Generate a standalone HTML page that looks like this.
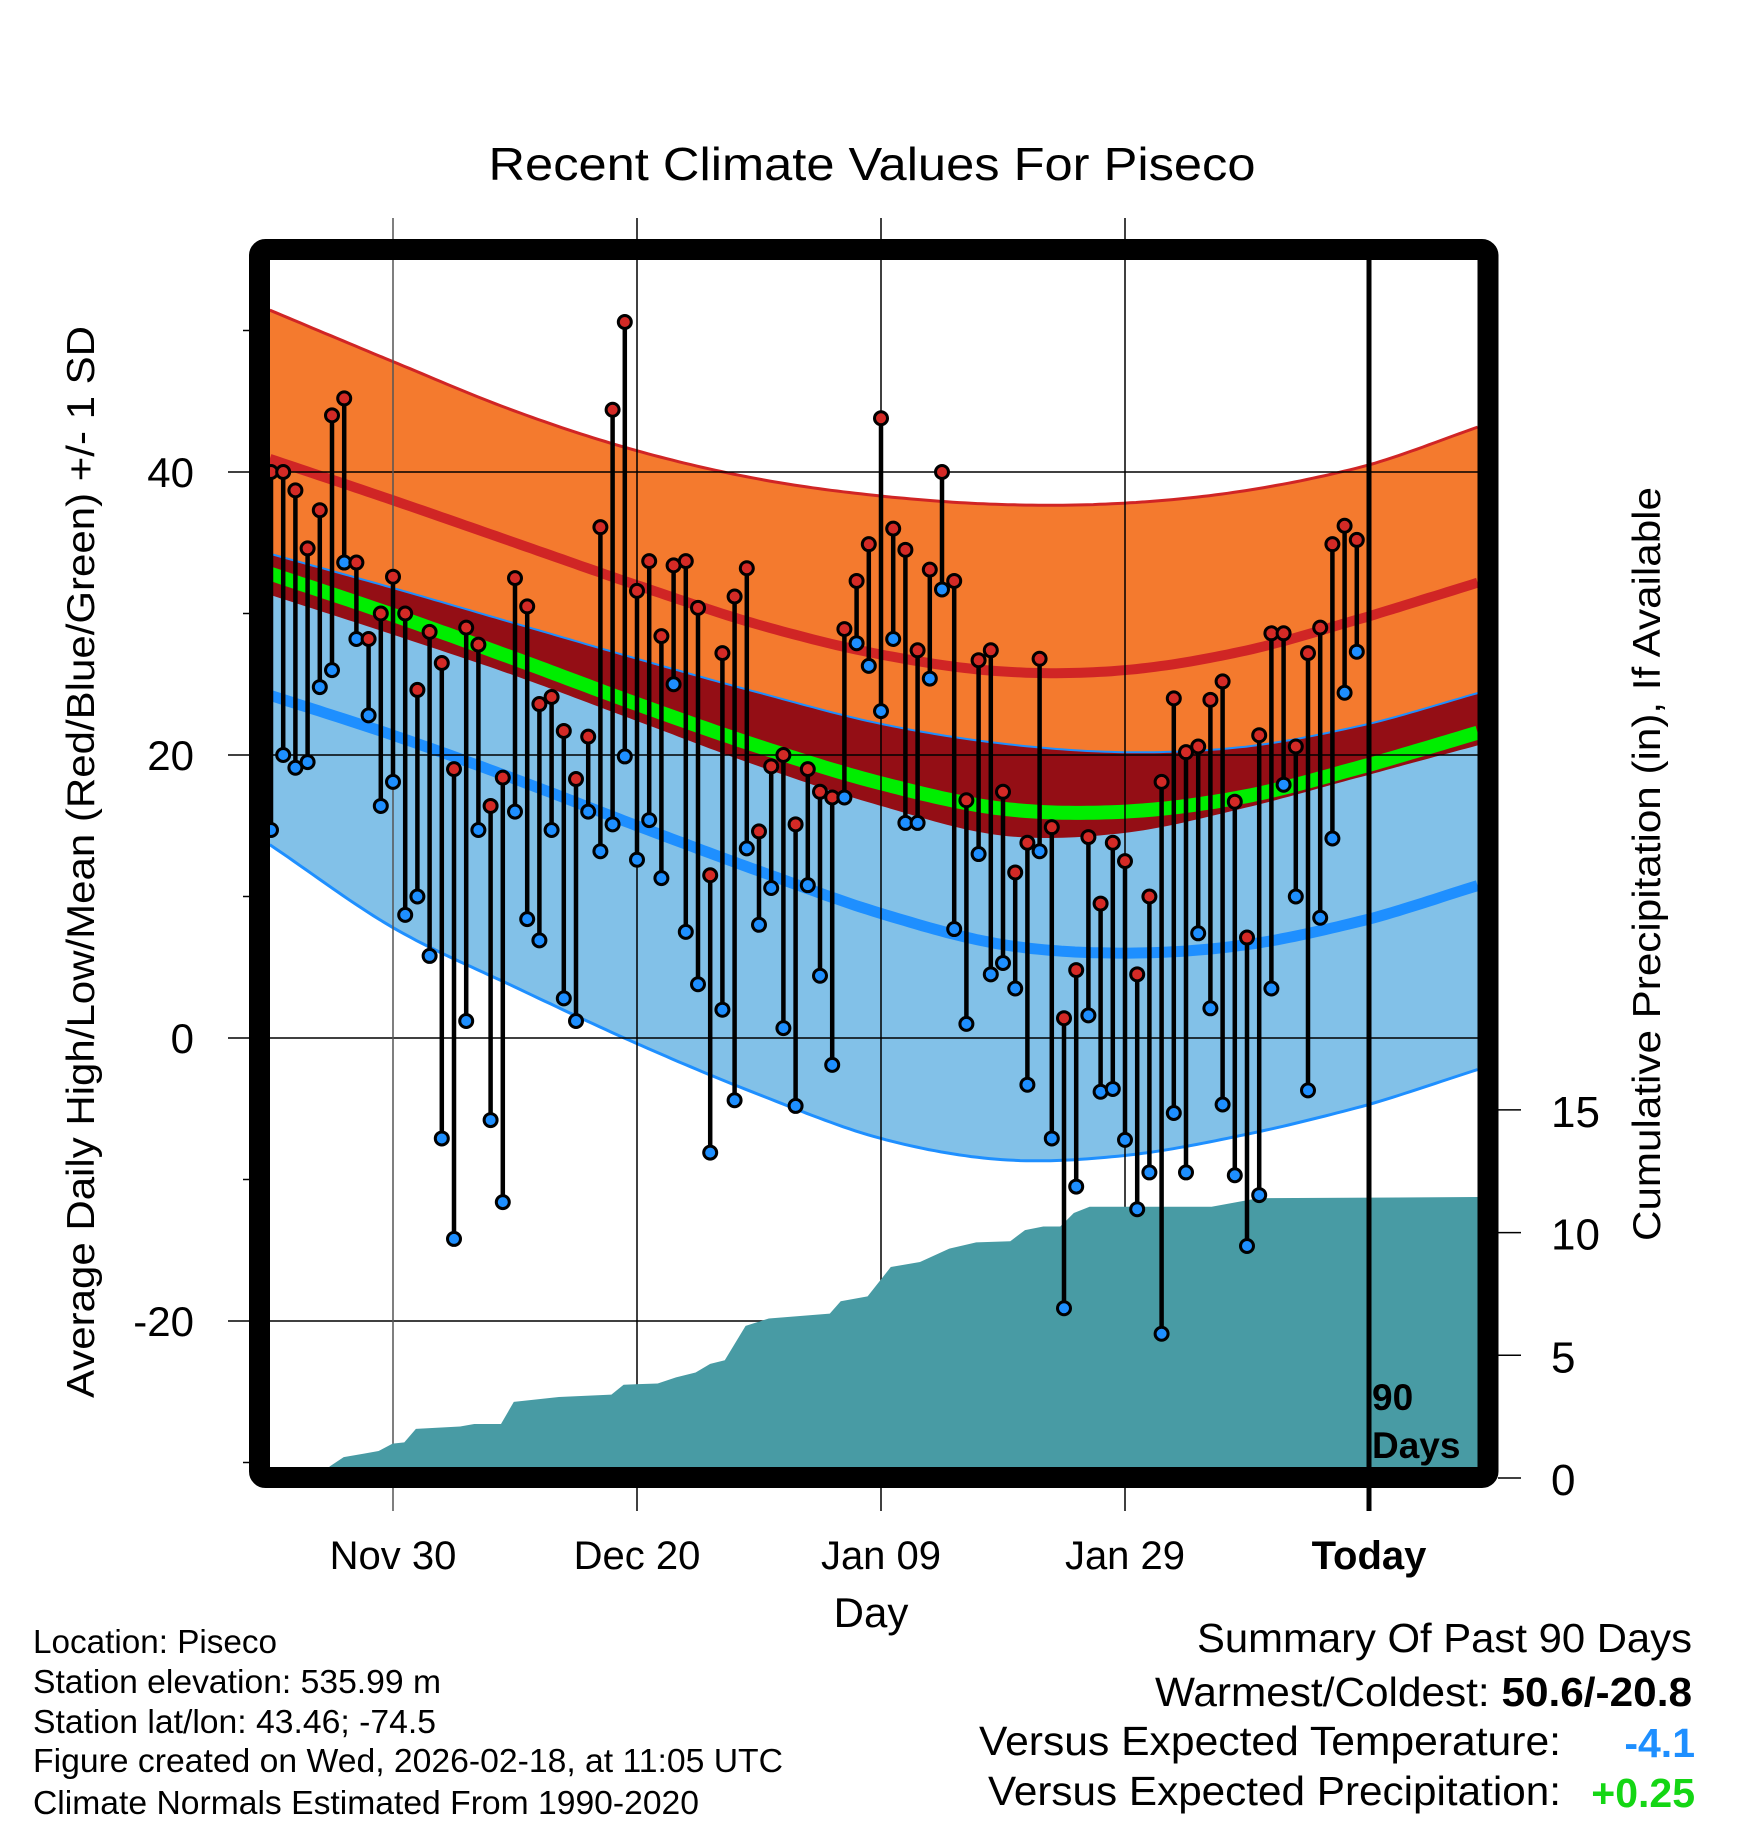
<!DOCTYPE html>
<html><head><meta charset="utf-8"><style>
html,body{margin:0;padding:0;background:#fff}
svg{display:block;font-family:"Liberation Sans",Arial,sans-serif}
</style></head><body>
<svg id="chart" width="1748" height="1828" viewBox="0 0 1748 1828" xmlns="http://www.w3.org/2000/svg">
<defs><clipPath id="plotclip"><rect x="270" y="260" width="1208" height="1207"/></clipPath></defs>
<text x="872" y="180" font-size="46" text-anchor="middle" textLength="767" lengthAdjust="spacingAndGlyphs">Recent Climate Values For Piseco</text>
<g id="bands" clip-path="url(#plotclip)"></g>
<g id="grid"></g>
<g id="precip" clip-path="url(#plotclip)"></g>
<g id="marks"></g>
<g id="axes"></g>
<rect x="259.5" y="249.5" width="1228.5" height="1228" rx="6" fill="none" stroke="#000" stroke-width="21"/>
<text x="1372" y="1410" font-size="37" font-weight="bold">90</text>
<text x="1372" y="1458" font-size="37" font-weight="bold">Days</text>
<text x="871" y="1627" font-size="42" text-anchor="middle">Day</text>
<text transform="translate(94,862) rotate(-90)" font-size="39" text-anchor="middle" textLength="1072" lengthAdjust="spacingAndGlyphs">Average Daily High/Low/Mean (Red/Blue/Green) +/- 1 SD</text>
<text transform="translate(1660,864) rotate(-90)" font-size="39" text-anchor="middle" textLength="754" lengthAdjust="spacingAndGlyphs">Cumulative Precipitation (in), If Available</text>
<g font-size="33">
<text x="33" y="1653" textLength="244" lengthAdjust="spacingAndGlyphs">Location: Piseco</text>
<text x="33" y="1693" textLength="408" lengthAdjust="spacingAndGlyphs">Station elevation: 535.99 m</text>
<text x="33" y="1733" textLength="403" lengthAdjust="spacingAndGlyphs">Station lat/lon: 43.46; -74.5</text>
<text x="33" y="1772" textLength="750" lengthAdjust="spacingAndGlyphs">Figure created on Wed, 2026-02-18, at 11:05 UTC</text>
<text x="33" y="1814" textLength="666" lengthAdjust="spacingAndGlyphs">Climate Normals Estimated From 1990-2020</text>
</g>
<g font-size="41">
<text x="1197" y="1652" textLength="495" lengthAdjust="spacingAndGlyphs">Summary Of Past 90 Days</text>
<text x="1155" y="1706" textLength="537" lengthAdjust="spacingAndGlyphs">Warmest/Coldest: <tspan font-weight="bold">50.6/-20.8</tspan></text>
<text x="979" y="1755" textLength="582" lengthAdjust="spacingAndGlyphs">Versus Expected Temperature:</text>
<text x="1695" y="1757" text-anchor="end" font-weight="bold" fill="#1e8fff">-4.1</text>
<text x="988" y="1805" textLength="573" lengthAdjust="spacingAndGlyphs">Versus Expected Precipitation:</text>
<text x="1695" y="1807" text-anchor="end" font-weight="bold" fill="#14d614">+0.25</text>
</g>
</svg>
<script>
// ---- data ----
const highs = [40,40,38.7,34.6,37.3,44,45.2,33.6,28.2,30,32.6,30,24.6,28.7,26.5,19,29,27.8,16.4,18.4,32.5,30.5,23.6,24.1,21.7,18.3,21.3,36.1,44.4,50.6,31.6,33.7,28.4,33.4,33.7,30.4,11.5,27.2,31.2,33.2,14.6,19.2,20,15.1,19,17.4,17,28.9,32.3,34.9,43.8,36,34.5,27.4,33.1,40,32.3,16.8,26.7,27.4,17.4,11.7,13.8,26.8,14.9,1.4,4.8,14.2,9.5,13.8,12.5,4.5,10,18.1,24,20.2,20.6,23.9,25.2,16.7,7.1,21.4,28.6,28.6,20.6,27.2,29,34.9,36.2,35.2];
const lows = [14.7,20,19.1,19.5,24.8,26,33.6,28.2,22.8,16.4,18.1,8.7,10,5.8,-7.1,-14.2,1.2,14.7,-5.8,-11.6,16,8.4,6.9,14.7,2.8,1.2,16,13.2,15.1,19.9,12.6,15.4,11.3,25,7.5,3.8,-8.1,2,-4.4,13.4,8,10.6,0.7,-4.8,10.8,4.4,-1.9,17,27.9,26.3,23.1,28.2,15.2,15.2,25.4,31.7,7.7,1,13,4.5,5.3,3.5,-3.3,13.2,-7.1,-19.1,-10.5,1.6,-3.8,-3.6,-7.2,-12.1,-9.5,-20.9,-5.3,-9.5,7.4,2.1,-4.7,-9.7,-14.7,-11.1,3.5,17.9,10,-3.7,8.5,14.1,24.4,27.3];
const firstDay = -10; // days relative to Nov 30
const normDays = [-10,0,10,20,30,40,50,60,70,80,89];
const hiTop  = [51.4,47.8,44.3,41.5,39.5,38.3,37.7,37.8,38.7,40.5,43.2];
const hiMean = [40.9,38.0,35.0,32.0,29.2,27.1,25.9,26.0,27.4,29.8,32.2];
const hiBot  = [31.3,28.5,25.6,22.4,19.2,16.4,14.3,14.5,16.3,18.6,20.7];
const avgMean= [32.8,29.9,26.8,23.6,20.6,18.0,16.2,16.0,17.1,19.3,21.6];
const loTop  = [34.2,31.8,29.3,26.8,24.4,22.2,20.8,20.2,20.6,22.2,24.4];
const loMean = [24.2,21.4,18.3,15.0,11.8,8.8,6.6,6.0,6.6,8.4,10.8];
const loBot  = [13.6,7.8,3.6,-0.4,-4.0,-7.1,-8.6,-8.3,-6.8,-4.7,-2.2];
const precipDays = [-5.6,-5.2,-4.04,-2.32,-1.18,-0.03,0.93,1.88,5.5,6.66,8.85,9.9,13.6,17.9,18.9,21.7,23.2,24.8,26.0,27.2,28.9,30.8,35.8,36.7,38.9,40.8,43.2,45.6,47.8,50.6,51.8,53.3,54.7,55.8,57.1,67.1,70.9,89];
const precipVals = [0,0.47,0.85,1.0,1.1,1.4,1.45,2.0,2.1,2.2,2.2,3.1,3.3,3.4,3.8,3.85,4.1,4.3,4.65,4.8,6.2,6.5,6.7,7.2,7.4,8.6,8.8,9.35,9.6,9.65,10.1,10.25,10.25,10.8,11.05,11.05,11.4,11.45];
const xTickDays = [0,20,40,60,80];
const xTickLabels = ["Nov 30","Dec 20","Jan 09","Jan 29","Today"];
const yTicks = [40,20,0,-20];
const yMinor = [50,30,10,-10,-30];
const pTicks = [0,5,10,15];

// ---- scales ----
const NS="http://www.w3.org/2000/svg";
function x(d){return 393+d*12.2;}
function y(t){return 472+(40-t)*14.15;}
function yp(p){return 1478-p*24.54;}
const dMin=-10.1, dMax=88.95;
function interp(arr,d){
  let i=0; while(i<normDays.length-2 && d>normDays[i+1]) i++;
  const t=(d-normDays[i])/(normDays[i+1]-normDays[i]);
  const p1=arr[i],p2=arr[i+1];
  const p0=i>0?arr[i-1]:2*p1-p2;
  const p3=i+2<arr.length?arr[i+2]:2*p2-p1;
  return 0.5*((2*p1)+(-p0+p2)*t+(2*p0-5*p1+4*p2-p3)*t*t+(-p0+3*p1-3*p2+p3)*t*t*t);
}
function mk(tag,attrs,parent){const e=document.createElementNS(NS,tag);for(const k in attrs)e.setAttribute(k,attrs[k]);parent.appendChild(e);return e;}
function linePts(arr){const p=[];for(let d=dMin;d<=dMax+0.01;d+=0.5)p.push(x(d).toFixed(1)+","+y(interp(arr,d)).toFixed(1));return p;}
function bandPath(a,b){const t=linePts(a),bt=linePts(b).reverse();return "M"+t.join("L")+"L"+bt.join("L")+"Z";}

const bands=document.getElementById('bands');
let e;
e=mk('path',{d:bandPath(hiTop,hiBot),fill:'#f47a2e'},bands);


e=mk('path',{d:bandPath(loTop,loBot),fill:'#82c1e8'},bands);


e=mk('path',{d:bandPath(loTop,hiBot),fill:'#940e15'},bands);


e=mk('polyline',{points:linePts(hiTop).join(' '),fill:'none',stroke:'#d02525','stroke-width':3},bands);


e=mk('polyline',{points:linePts(hiMean).join(' '),fill:'none',stroke:'#d02525','stroke-width':10},bands);


e=mk('polyline',{points:linePts(loTop).join(' '),fill:'none',stroke:'#1e8fff','stroke-width':2},bands);


e=mk('polyline',{points:linePts(loBot).join(' '),fill:'none',stroke:'#1e8fff','stroke-width':3},bands);


e=mk('polyline',{points:linePts(loMean).join(' '),fill:'none',stroke:'#1e8fff','stroke-width':11},bands);


e=mk('polyline',{points:linePts(avgMean).join(' '),fill:'none',stroke:'#00ee00','stroke-width':14},bands);



// grid
const grid=document.getElementById('grid');
yTicks.forEach(t=>{
  e=mk('line',{x1:228,x2:1478,y1:y(t),y2:y(t),stroke:'#000','stroke-width':1.5},grid);
  
  
});
yMinor.forEach(t=>{
  e=mk('line',{x1:243,x2:252,y1:y(t),y2:y(t),stroke:'#000','stroke-width':1.5},grid);
  
  
});
xTickDays.forEach((d,i)=>{
  if(i===xTickDays.length-1) return;
  e=mk('line',{x1:x(d),x2:x(d),y1:218,y2:1511,stroke:i===0?'#555':'#000','stroke-width':1.5},grid);
  
  
});

// precip
const pg=document.getElementById('precip');
let pd="M"+x(precipDays[0])+","+1470;
precipDays.forEach((d,i)=>{pd+="L"+x(d).toFixed(1)+","+yp(precipVals[i]).toFixed(1);});
pd+="L"+x(dMax)+","+yp(precipVals[precipVals.length-1])+"L"+x(dMax)+",1470Z";
e=mk('path',{d:pd,fill:'#489ba4'},pg);



// marks
const mg=document.getElementById('marks');
highs.forEach((h,i)=>{
  const d=firstDay+i, l=lows[i], xx=x(d);
  e=mk('line',{x1:xx,x2:xx,y1:y(h),y2:y(l),stroke:'#000','stroke-width':4.5},mg);
  
  
});
highs.forEach((h,i)=>{
  const d=firstDay+i, l=lows[i], xx=x(d);
  e=mk('circle',{cx:xx,cy:y(h),r:6.5,fill:'#d42a26',stroke:'#000','stroke-width':3},mg);
  
  
  e=mk('circle',{cx:xx,cy:y(l),r:6.5,fill:'#1e8fff',stroke:'#000','stroke-width':3},mg);
  
  
});

// axes
const ax=document.getElementById('axes');
e=mk('line',{x1:x(80),x2:x(80),y1:260,y2:1511,stroke:'#000','stroke-width':5},ax);


xTickDays.forEach((d,i)=>{
  e=mk('text',{x:x(d),y:1569,'font-size':40,'text-anchor':'middle','font-weight':i===4?'bold':'normal'},ax);
  e.textContent=xTickLabels[i];
  
  
});
yTicks.forEach(t=>{
  e=mk('text',{x:194,y:y(t)+15,'font-size':42,'text-anchor':'end'},ax);
  e.textContent=String(t);
  
  
});
pTicks.forEach(p=>{
  e=mk('line',{x1:1498,x2:1521,y1:yp(p),y2:yp(p),stroke:'#000','stroke-width':1.5},ax);
  
  
  e=mk('text',{x:1551,y:yp(p)+17,'font-size':44},ax);
  e.textContent=String(p);
  
  
});
</script>
</body></html>
